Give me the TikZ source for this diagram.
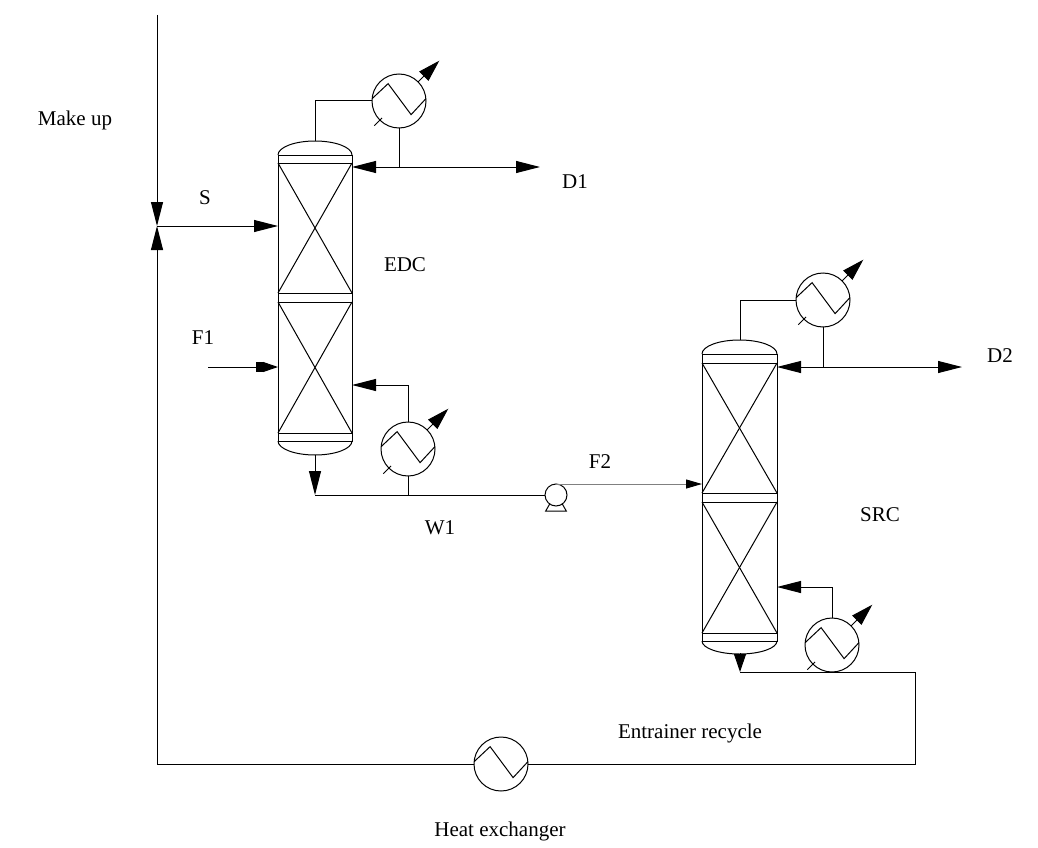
\documentclass[tikz,border=0pt]{standalone}
\usepackage{fontspec}
\setmainfont{Liberation Serif}
\usetikzlibrary{arrows.meta,shapes,positioning,calc}
\newcommand{\zigzag}[1]{\draw (#1.175) -- ++(16,15) -- ++(23,-31) -- (#1.5);}
\newcommand{\utility}[1]{\draw[util] (#1.45) -- ++(45:30); \draw (#1.225) ++(45:3) -- ++(225:11);}

\begin{document}
\begin{tikzpicture}[x=1pt, y=1pt, line width=1pt,
        flow/.style={-{Triangle[length=24pt,width=12pt]}},
        util/.style={-{Triangle[length=22pt,width=13pt]}},
        col/.style={draw, rectangle, minimum width=74pt, minimum height=286pt, inner sep=0pt, outer sep=0pt},
        exch/.style={draw, circle, minimum size=54pt, inner sep=0pt, outer sep=0pt},
        lbl/.style={font=\fontsize{21}{25}\selectfont}]
        \useasboundingbox (0,0) rectangle (1038,-848);

        % columns
        \node[col] (EDC) at (315,-298) {};
        \node[col, minimum width=75pt, minimum height=287pt] (SRC) at (739.5,-497.5) {};
        \draw (EDC.north west) arc[start angle=180, end angle=0, x radius=37, y radius=14];
        \draw (EDC.south west) arc[start angle=180, end angle=360, x radius=37, y radius=14];
        \draw (SRC.north west) arc[start angle=180, end angle=0, x radius=37.5, y radius=14];
        \draw (SRC.south west) arc[start angle=180, end angle=360, x radius=37.5, y radius=13];

        \begin{scope}
            \draw (278,-163) -- (352,-163);
            \draw (278,-293) -- (352,-293);
            \draw (278,-302) -- (352,-302);
            \draw (278,-433) -- (352,-433);
            \draw (278,-163) -- (352,-293);
            \draw (352,-163) -- (278,-293);
            \draw (278,-302) -- (352,-433);
            \draw (352,-302) -- (278,-433);
        \end{scope}
        \begin{scope}
            \draw (702,-363) -- (777,-363);
            \draw (702,-493) -- (777,-493);
            \draw (702,-502) -- (777,-502);
            \draw (702,-633) -- (777,-633);
            \draw (702,-363) -- (777,-493);
            \draw (777,-363) -- (702,-493);
            \draw (702,-502) -- (777,-633);
            \draw (777,-502) -- (702,-633);
        \end{scope}

        % exchangers and pump
        \node[exch] (cond1) at (399,-101) {};
        \node[exch] (reb1) at (408,-449) {};
        \node[exch] (cond2) at (823,-300) {};
        \node[exch] (reb2) at (832,-645) {};
        \node[exch] (hx) at (501,-764) {};
        \node[draw, circle, minimum size=22pt, inner sep=0pt, outer sep=0pt] (pump) at (556,-495) {};
        \zigzag{cond1} \zigzag{reb1} \zigzag{cond2} \zigzag{reb2} \zigzag{hx}
        \utility{cond1} \utility{reb1} \utility{cond2} \utility{reb2}
        \draw (pump.235) -- ++(-4,-7) -- ++(20.6,0) -- (pump.305);

        % points on the lines
        \coordinate (EDCtop) at (315,-141);
        \coordinate (EDCbot) at (315,-455);
        \coordinate (SRCtop) at (740,-340);
        \coordinate (SRCbot) at (740,-653);
        \coordinate (mu) at (157,-15);
        \coordinate (mix) at (157,-226);
        \coordinate (F1in) at (208,-367);
        \coordinate (j1) at (399,-167);
        \coordinate (D1out) at (540,-167);
        \coordinate (rb1) at (408,-385);
        \coordinate (w1) at (315,-495);
        \coordinate (jw) at (408,-495);
        \coordinate (j2) at (823,-367);
        \coordinate (D2out) at (962,-367);
        \coordinate (rb2) at (832,-587);
        \coordinate (b2) at (740,-672);
        \coordinate (rc) at (915,-672);

        % EDC streams
        \draw[flow] (mu) -- (mix);
        \draw[flow] (mix) -- (EDC.west |- mix);
        \draw[-{Rectangle[length=7pt,width=10pt] Triangle[length=15pt,width=10pt]}] (F1in) -- (EDC.west |- F1in);
        \draw (EDCtop) |- (cond1.west);
        \draw (cond1.south) -- (j1);
        \draw[flow] (j1) -- (EDC.east |- j1);
        \draw[flow] (j1) -- (D1out);
        \draw (reb1.north) -- (rb1);
        \draw[flow] (rb1) -- (EDC.east |- rb1);
        \draw[flow] (EDCbot) -- (w1);
        \draw (w1) -- (pump.west);
        \draw (reb1.south) -- (jw);
        \draw[-{Triangle[length=16pt,width=9pt,color=black]}, black!50] (pump.north) -- (SRC.west |- pump.north);

        % SRC streams
        \draw (SRCtop) |- (cond2.west);
        \draw (cond2.south) -- (j2);
        \draw[flow] (j2) -- (SRC.east |- j2);
        \draw[flow] (j2) -- (D2out);
        \draw (reb2.north) -- (rb2);
        \draw[flow] (rb2) -- (SRC.east |- rb2);
        \draw[-{Triangle[length=18pt,width=12pt]}] (SRCbot) -- (b2);
        \draw (b2) -- (rc);
        \draw (rc) |- (hx.east);
        \draw[flow] (hx.west) -| (mix);

        % labels
        \node[lbl] (lmu) at (75,-120) {Make up};
        \node[lbl] (lS) at (205,-198) {S};
        \node[lbl] (lD1) at (575,-182) {D1};
        \node[lbl] (lEDC) at (405,-265) {EDC};
        \node[lbl] (lF1) at (203,-338) {F1};
        \node[lbl] (lF2) at (600,-462) {F2};
        \node[lbl] (lW1) at (440,-528) {W1};
        \node[lbl] (lSRC) at (880,-515) {SRC};
        \node[lbl] (lD2) at (1000,-356) {D2};
        \node[lbl] (lrec) at (690,-733) {Entrainer recycle};
        \node[lbl] (lhx) at (500,-831) {Heat exchanger};
\end{tikzpicture}
\end{document}
